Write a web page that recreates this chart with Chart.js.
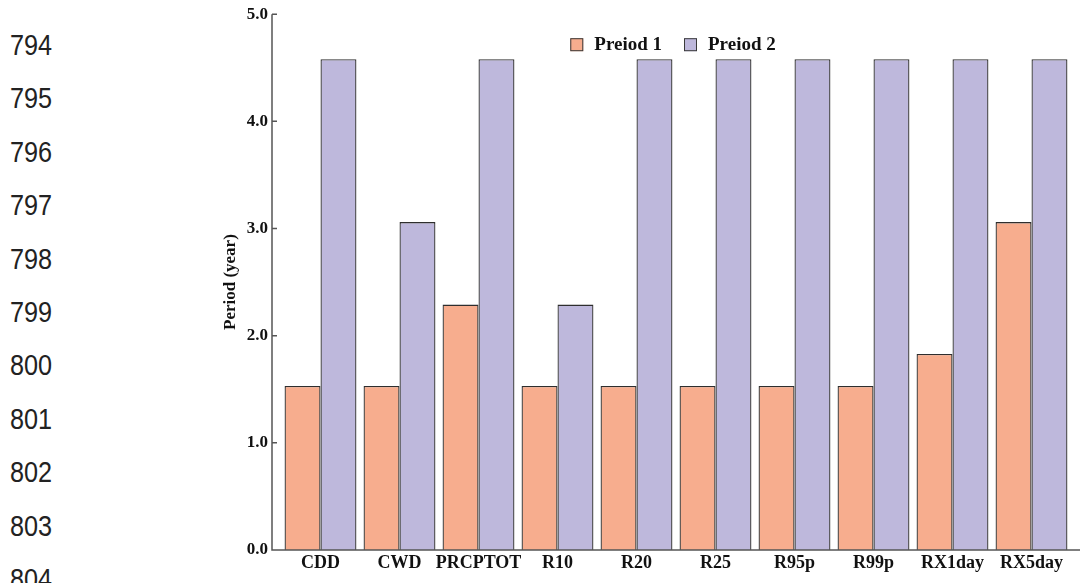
<!DOCTYPE html>
<html>
<head>
<meta charset="utf-8">
<script src="https://cdn.jsdelivr.net/npm/chart.js@4"></script>
<style>
    html, body { margin: 0; padding: 0; background: #fff; }
    #wrap { position: relative; width: 1080px; height: 583px; overflow: hidden; }
    #lines {
        position: absolute; left: 10px; top: 19px;
        font-family: "Liberation Sans", sans-serif;
        font-size: 29px; line-height: 53.4px; color: #222;
        transform: scaleX(0.87); transform-origin: left top;
    }
    canvas { position: absolute; left: 0; top: -9px; }
</style>
</head>
<body>
<div id="wrap">
    <div id="lines">794<br>795<br>796<br>797<br>798<br>799<br>800<br>801<br>802<br>803<br>804</div>
    <canvas id="myChart" width="1080" height="592"></canvas>
</div>
<script>
const categories = ["CDD", "CWD", "PRCPTOT", "R10", "R20", "R25", "R95p", "R99p", "RX1day", "RX5day"];
const period1 = [1.53, 1.53, 2.29, 1.53, 1.53, 1.53, 1.53, 1.53, 1.83, 3.06];
const period2 = [4.58, 3.06, 4.58, 2.29, 4.58, 4.58, 4.58, 4.58, 4.58, 4.58];
const seriesNames = ["Preiod 1", "Preiod 2"];
const seriesColors = ["#F7AD8E", "#BEB8DC"];
const yTicks = [0, 1, 2, 3, 4, 5];

const serif = "'Liberation Serif', 'Times New Roman', serif";

// axes drawn by hand: y line sits a little left of the first bar, ticks point inward
const axisLines = {
    id: "axisLines",
    afterDatasetsDraw(chart) {
        const c = chart.ctx;
        const area = chart.chartArea;
        const y = chart.scales.y;
        const x0 = area.left - 9;
        c.save();
        c.strokeStyle = "#555";
        c.lineWidth = 1.5;
        c.beginPath();
        c.moveTo(x0, y.getPixelForValue(5));
        c.lineTo(x0, area.bottom);
        c.lineTo(1080, area.bottom);
        yTicks.forEach(function (t) {
            const py = y.getPixelForValue(t);
            c.moveTo(x0, py);
            c.lineTo(x0 + 5, py);
        });
        c.stroke();
        c.restore();
    }
};

// legend inside the plot, near the top
const innerLegend = {
    id: "innerLegend",
    afterDraw(chart) {
        const c = chart.ctx;
        const sets = chart.data.datasets;
        const box = 13, gap = 11, itemGap = 22;
        c.save();
        c.font = "bold 19px " + serif;
        c.textBaseline = "alphabetic";
        let total = 0;
        const widths = sets.map(function (ds) { return c.measureText(ds.label).width; });
        widths.forEach(function (w, i) { total += box + gap + w + (i ? itemGap : 0); });
        let x = 673 - total / 2;
        const top = chart.chartArea.top + 24;
        sets.forEach(function (ds, i) {
            c.fillStyle = ds.backgroundColor;
            c.fillRect(x, top, box, box);
            c.strokeStyle = "#3a3a3a";
            c.lineWidth = 1;
            c.strokeRect(x + 0.5, top + 0.5, box - 1, box - 1);
            c.fillStyle = "#111";
            c.fillText(ds.label, x + box + gap, top + 12);
            x += box + gap + widths[i] + itemGap;
        });
        c.restore();
    }
};

const ctx = document.getElementById("myChart").getContext("2d");
const myChart = new Chart(ctx, {
    type: "bar",
    data: {
        labels: categories,
        datasets: [
            {
                label: seriesNames[0],
                data: period1,
                backgroundColor: seriesColors[0],
                borderColor: "#2e2e2e",
                borderWidth: 1.3,
            },
            {
                label: seriesNames[1],
                data: period2,
                backgroundColor: seriesColors[1],
                borderColor: "#2e2e2e",
                borderWidth: 1.3,
            },
        ],
    },
    options: {
        responsive: false,
        animation: false,
        layout: {
            padding: { left: 220, right: 9, top: 13, bottom: 0 },
        },
        datasets: {
            bar: { categoryPercentage: 0.91, barPercentage: 1.0 },
        },
        plugins: {
            legend: { display: false },
            tooltip: { enabled: false },
        },
        scales: {
            x: {
                grid: { display: false, drawTicks: false },
                border: { display: false },
                ticks: {
                    font: { family: serif, size: 18, weight: "bold" },
                    color: "#111",
                    padding: 3,
                    maxRotation: 0,
                    autoSkip: false,
                },
                afterFit(scale) { scale.height = 33; },
            },
            y: {
                min: 0,
                max: 5,
                afterBuildTicks(scale) {
                    scale.ticks = yTicks.map(function (v) { return { value: v }; });
                },
                grid: { display: false, drawTicks: false },
                border: { display: false },
                ticks: {
                    font: { family: serif, size: 17, weight: "bold" },
                    color: "#111",
                    padding: 13,
                    callback: function (v) { return v.toFixed(1); },
                },
                title: {
                    display: true,
                    text: "Period (year)",
                    font: { family: serif, size: 17, weight: "bold" },
                    color: "#111",
                    padding: 0,
                },
                afterFit(scale) { scale.width = 61; },
            },
        },
    },
    plugins: [axisLines, innerLegend],
});
</script>
</body>
</html>
